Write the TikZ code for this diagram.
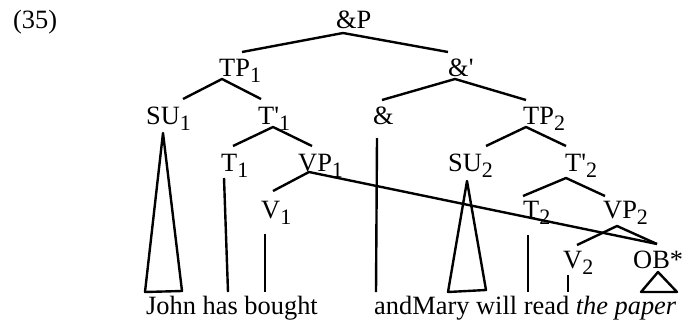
\documentclass[tikz,border=0pt]{standalone}
\usepackage{fontspec}
\setmainfont{Liberation Serif}

% 下标
\newcommand{\sbx}[1]{\raisebox{-3pt}{\fontsize{11}{11}\selectfont #1}}
\newcommand{\pr}{\textquotesingle}

\begin{document}
\begin{tikzpicture}[x=0.5pt, y=-0.5pt, line width=1.2pt, line join=round,
    lab/.style={anchor=base west, inner sep=0pt, font=\fontsize{13.2}{15}\selectfont}]

    \useasboundingbox (0,0) rectangle (683,321);

    % --- 标签 ---
    \node[lab] (ex)     at (12,28)   {(35)};
    \node[lab] (AndP)   at (335,28)  {\&P};
    \node[lab] (TP1)    at (218,76)  {TP\sbx{1}};
    \node[lab] (AndBar) at (447,76)  {\&\pr};
    \node[lab] (SU1)    at (145,124) {SU\sbx{1}};
    \node[lab] (Tbar1)  at (257,124) {T\pr\sbx{1}};
    \node[lab] (And)    at (372,124) {\&};
    \node[lab] (TP2)    at (522,124) {TP\sbx{2}};
    \node[lab] (T1)     at (220,171) {T\sbx{1}};
    \node[lab] (VP1)    at (297,171) {VP\sbx{1}};
    \node[lab] (SU2)    at (447,171) {SU\sbx{2}};
    \node[lab] (Tbar2)  at (564,171) {T\pr\sbx{2}};
    \node[lab] (V1)     at (260,218) {V\sbx{1}};
    \node[lab] (T2)     at (522,218) {T\sbx{2}};
    \node[lab] (VP2)    at (602,218) {VP\sbx{2}};
    \node[lab] (V2)     at (562,268) {V\sbx{2}};
    \node[lab] (OB)     at (632,268) {OB*};

    % --- 词串 ---
    \node[lab] (words1) at (145,314) {John has bought};
    \node[lab] (words2) at (373,314) {andMary will read \textit{the paper}};

    % --- 分支点 ---
    \coordinate (AndP-b)   at (343,33);
    \coordinate (TP1-t)    at (242,52);
    \coordinate (AndBar-t) at (448,52);
    \coordinate (TP1-b)    at (222,79);
    \coordinate (SU1-t)    at (183,99);
    \coordinate (Tbar1-t)  at (261,99);
    \coordinate (AndBar-b) at (455,79);
    \coordinate (And-t)    at (382,100);
    \coordinate (TP2-t)    at (526,100);
    \coordinate (Tbar1-b)  at (273,127);
    \coordinate (T1-t)     at (233,146);
    \coordinate (VP1-t)    at (312,146);
    \coordinate (TP2-b)    at (526,127);
    \coordinate (SU2-t)    at (486,146);
    \coordinate (Tbar2-t)  at (566,146);
    \coordinate (VP1-b)    at (309,172);
    \coordinate (V1-t)     at (273,191);
    \coordinate (OB-t)     at (657,244);
    \coordinate (Tbar2-b)  at (566,178);
    \coordinate (T2-t)     at (523,196);
    \coordinate (VP2-t)    at (605,196);
    \coordinate (VP2-b)    at (617,226);
    \coordinate (V2-t)     at (577,245);

    % --- 树枝 ---
    \draw (TP1-t) -- (AndP-b) -- (AndBar-t);
    \draw (SU1-t) -- (TP1-b) -- (Tbar1-t);
    \draw (And-t) -- (AndBar-b) -- (TP2-t);
    \draw (T1-t) -- (Tbar1-b) -- (VP1-t);
    \draw (SU2-t) -- (TP2-b) -- (Tbar2-t);
    \draw (V1-t) -- (VP1-b) -- (OB-t);
    \draw (T2-t) -- (Tbar2-b) -- (VP2-t);
    \draw (V2-t) -- (VP2-b) -- (OB-t);

    % --- 到词串的竖线与三角 ---
    \coordinate (SU1-a) at (163,133);
    \coordinate (SU1-l) at (145,292);
    \coordinate (SU1-r) at (182,291);
    \coordinate (T1-b)  at (224,178);
    \coordinate (T1-w)  at (228,292);
    \coordinate (V1-b)  at (265,234);
    \coordinate (V1-w)  at (265,292);
    \coordinate (And-b) at (377,138);
    \coordinate (And-w) at (376,292);
    \coordinate (SU2-a) at (467,181);
    \coordinate (SU2-l) at (448,292);
    \coordinate (SU2-r) at (486,290);
    \coordinate (T2-b)  at (528,235);
    \coordinate (T2-w)  at (528,292);
    \coordinate (V2-b)  at (568,275);
    \coordinate (V2-w)  at (568,292);
    \coordinate (OB-a)  at (658,272);
    \coordinate (OB-l)  at (641,292);
    \coordinate (OB-r)  at (677,292);

    \draw (SU1-a) -- (SU1-l) -- (SU1-r) -- cycle;
    \draw (T1-b) -- (T1-w);
    \draw (V1-b) -- (V1-w);
    \draw (And-b) -- (And-w);
    \draw (SU2-a) -- (SU2-l) -- (SU2-r) -- cycle;
    \draw (T2-b) -- (T2-w);
    \draw (V2-b) -- (V2-w);
    \draw (OB-a) -- (OB-l) -- (OB-r) -- cycle;

\end{tikzpicture}
\end{document}
